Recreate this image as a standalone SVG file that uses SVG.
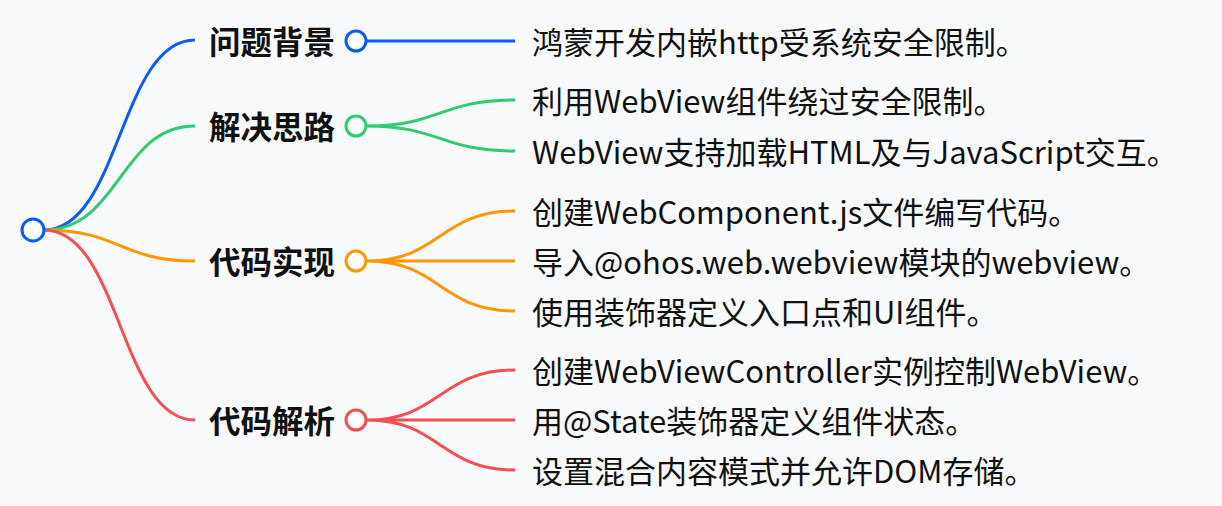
<svg xmlns="http://www.w3.org/2000/svg" width="1222" height="506" viewBox="0 0 1222 506">
<style>
.t{font-family:"Noto Sans CJK SC","Noto Sans",sans-serif;font-size:31px;fill:#111;dominant-baseline:central}
.b{font-weight:bold;font-size:31.5px}
path{fill:none;stroke-width:3}
circle{fill:#fff;stroke-width:3}
.bl{stroke:#0a5cf5}.gr{stroke:#2ecc71}.or{stroke:#ff9800}.rd{stroke:#f05050}
</style>
<rect width="1222" height="506" fill="#f8f9fb"/>
<g id="connectors">
<path class="bl" d="M44,230 C120,230 120,40 195,40"/>
<path class="gr" d="M44,230 C120,230 120,126 195,126"/>
<path class="or" d="M44,230 C120,230 120,261 195,261"/>
<path class="rd" d="M44,230 C120,230 120,420 195,420"/>
<path class="bl" d="M367,41 L515,41"/>
<path class="gr" d="M367,126 C440,126 440,100 515,100 M367,126 C440,126 440,151 515,151"/>
<path class="or" d="M367,261 C440,261 440,211 515,211 M367,261 L515,261 M367,261 C440,261 440,311 515,311"/>
<path class="rd" d="M367,420 C440,420 440,370 515,370 M367,420 L515,420 M367,420 C440,420 440,470 515,470"/>
</g>
<g id="root"><circle class="bl" cx="33" cy="230" r="11"/></g>
<g id="n1"><text class="t b" x="209" y="40">问题背景</text><circle class="bl" cx="356" cy="41" r="10"/></g>
<g id="n2"><text class="t b" x="209" y="125">解决思路</text><circle class="gr" cx="356" cy="126" r="10"/></g>
<g id="n3"><text class="t b" x="209" y="260">代码实现</text><circle class="or" cx="356" cy="261" r="10"/></g>
<g id="n4"><text class="t b" x="209" y="419">代码解析</text><circle class="rd" cx="356" cy="420" r="10"/></g>
<g id="l1"><text class="t" x="532" y="40">鸿蒙开发内嵌http受系统安全限制。</text></g>
<g id="l2"><text class="t" x="532" y="99">利用WebView组件绕过安全限制。</text></g>
<g id="l3"><text class="t" x="532" y="150">WebView支持加载HTML及与JavaScript交互。</text></g>
<g id="l4"><text class="t" x="532" y="210">创建WebComponent.js文件编写代码。</text></g>
<g id="l5"><text class="t" x="532" y="260">导入@ohos.web.webview模块的webview。</text></g>
<g id="l6"><text class="t" x="532" y="310">使用装饰器定义入口点和UI组件。</text></g>
<g id="l7"><text class="t" x="532" y="369">创建WebViewController实例控制WebView。</text></g>
<g id="l8"><text class="t" x="532" y="419">用@State装饰器定义组件状态。</text></g>
<g id="l9"><text class="t" x="532" y="469">设置混合内容模式并允许DOM存储。</text></g>
</svg>
